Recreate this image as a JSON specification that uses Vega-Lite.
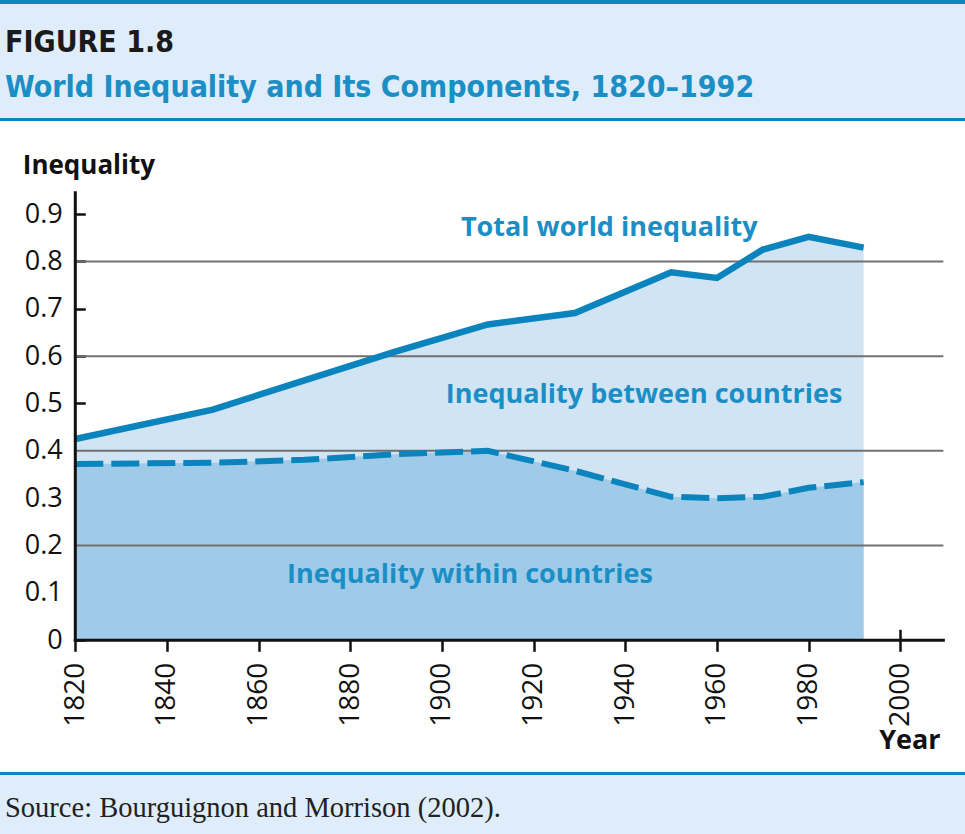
{
  "$schema": "https://vega.github.io/schema/vega-lite/v6.json",
  "padding": 0,
  "spacing": 0,
  "background": "#deedf9",
  "config": {
    "view": {"stroke": null},
    "concat": {"spacing": 0},
    "font": "Open Sans"
  },
  "datasets": {
    "series": [
      {"year": 1820, "total": 0.425, "within": 0.372},
      {"year": 1850, "total": 0.487, "within": 0.375},
      {"year": 1870, "total": 0.549, "within": 0.381},
      {"year": 1890, "total": 0.610, "within": 0.393},
      {"year": 1910, "total": 0.667, "within": 0.400},
      {"year": 1929, "total": 0.691, "within": 0.358},
      {"year": 1950, "total": 0.777, "within": 0.303},
      {"year": 1960, "total": 0.765, "within": 0.300},
      {"year": 1970, "total": 0.825, "within": 0.303},
      {"year": 1980, "total": 0.852, "within": 0.322},
      {"year": 1992, "total": 0.829, "within": 0.334}
    ],
    "grid": [{"value": 0.2}, {"value": 0.4}, {"value": 0.6}, {"value": 0.8}],
    "labels": [
      {"label": "Total world inequality", "year": 1936.5, "value": 0.854},
      {"label": "Inequality between countries", "year": 1944.1, "value": 0.502},
      {"label": "Inequality within countries", "year": 1906.1, "value": 0.121}
    ],
    "one": [{"k": 1}]
  },
  "vconcat": [
    {
      "width": 965, "height": 4,
      "view": {"fill": "#0b86be", "stroke": null},
      "title": {
        "text": "FIGURE 1.8",
        "subtitle": "World Inequality and Its Components, 1820–1992",
        "anchor": "start", "frame": "group", "orient": "bottom",
        "dx": 5,
        "font": "DejaVu Sans Condensed", "fontSize": 30, "fontWeight": "bold", "color": "#1a1a1a",
        "subtitleFont": "DejaVu Sans Condensed", "subtitleFontSize": 30, "subtitleFontWeight": "bold", "subtitleColor": "#1b8ec5",
        "subtitlePadding": 15, "offset": 24.3
      },
      "data": {"name": "one"},
      "mark": {"type": "rect", "opacity": 0},
      "encoding": {}
    },
    {
      "width": 965, "height": 13.7,
      "data": {"name": "one"},
      "mark": {"type": "rect", "opacity": 0},
      "encoding": {}
    },
    {
      "width": 965, "height": 3,
      "view": {"fill": "#0b86be", "stroke": null},
      "data": {"name": "one"},
      "mark": {"type": "rect", "opacity": 0},
      "encoding": {}
    },
    {
      "width": 965, "height": 651,
      "view": {"fill": "white", "stroke": null},
      "resolve": {"axis": {"x": "independent", "y": "independent"}},
      "layer": [
        {
          "data": {"name": "series"},
          "mark": {"type": "area", "color": "#d0e4f4"},
          "encoding": {
            "x": {"field": "year", "type": "quantitative",
              "scale": {"domain": [1803.57, 2014.12], "nice": false, "zero": false},
              "axis": {"orient": "bottom", "offset": -131.7, "values": [1820, 1840, 1860, 1880, 1900, 1920, 1940, 1960, 1980, 2000],
                "format": "d", "labelAngle": -90, "labelAlign": "right", "labelBaseline": "middle", "labelFontSize": 28, "labelFont": "Open Sans",
                "labelColor": "#111", "labelPadding": 11, "labelOverlap": false, "labelFlush": false,
                "tickSize": 11, "tickWidth": 2.5, "tickColor": "#111", "domain": false, "grid": false,
                "title": "Year", "titleX": 940, "titleY": 108, "titleAlign": "right", "titleBaseline": "alphabetic",
                "titleFontSize": 27, "titleFontWeight": "bold", "titleColor": "#111", "titleFont": "Open Sans"}},
            "y": {"field": "total", "type": "quantitative",
              "scale": {"domain": [-0.2781, 1.0965], "nice": false, "zero": false},
              "axis": {"orient": "left", "offset": -75.3, "values": [0, 0.1, 0.2, 0.3, 0.4, 0.5, 0.6, 0.7, 0.8, 0.9],
                "format": ".1~f", "labelFontSize": 27, "labelFont": "Open Sans", "labelColor": "#111", "labelPadding": 23,
                "tickSize": -10, "tickWidth": 2.5, "tickColor": "#111", "domain": false, "grid": false,
                "title": "Inequality", "titleAngle": 0, "titleX": -53, "titleY": 52, "titleAlign": "left", "titleBaseline": "alphabetic",
                "titleFontSize": 26, "titleFontWeight": "bold", "titleColor": "#111", "titleFont": "Open Sans"}}
          }
        },
        {
          "data": {"name": "series"},
          "mark": {"type": "area", "color": "#9fcbe8"},
          "encoding": {
            "x": {"field": "year", "type": "quantitative",
              "axis": {"orient": "bottom", "offset": -131.7, "values": [1820, 1830, 1840, 1850, 1860, 1870, 1880, 1890, 1900, 1910, 1920, 1930, 1940, 1950, 1960, 1970, 1980, 1990, 2000],
                "labels": false, "tickSize": -11, "tickWidth": 2.5, "tickColor": "#111", "domain": false, "grid": false, "title": null}},
            "y": {"field": "within", "type": "quantitative", "axis": null}
          }
        },
        {
          "data": {"name": "grid"},
          "mark": {"type": "rule", "color": "#707070", "strokeWidth": 2},
          "encoding": {
            "x": {"datum": 1820, "type": "quantitative", "axis": null},
            "x2": {"datum": 2009.4},
            "y": {"field": "value", "type": "quantitative", "axis": null}
          }
        },
        {
          "data": {"name": "series"},
          "mark": {"type": "line", "color": "#0b84be", "strokeWidth": 6, "strokeDash": [28, 8]},
          "encoding": {
            "x": {"field": "year", "type": "quantitative", "axis": null},
            "y": {"field": "within", "type": "quantitative", "axis": null}
          }
        },
        {
          "data": {"name": "series"},
          "mark": {"type": "line", "color": "#0b84be", "strokeWidth": 6.5},
          "encoding": {
            "x": {"field": "year", "type": "quantitative", "axis": null},
            "y": {"field": "total", "type": "quantitative", "axis": null}
          }
        },
        {
          "data": {"name": "one"},
          "mark": {"type": "rule", "color": "#111", "strokeWidth": 3, "strokeCap": "square"},
          "encoding": {
            "x": {"datum": 1820, "type": "quantitative", "axis": null},
            "x2": {"datum": 2009.4},
            "y": {"datum": 0, "type": "quantitative", "axis": null}
          }
        },
        {
          "data": {"name": "one"},
          "mark": {"type": "rule", "color": "#111", "strokeWidth": 3, "strokeCap": "square"},
          "encoding": {
            "x": {"datum": 1820, "type": "quantitative", "axis": null},
            "y": {"datum": 0, "type": "quantitative", "axis": null},
            "y2": {"datum": 0.945}
          }
        },
        {
          "data": {"name": "labels"},
          "mark": {"type": "text", "color": "#1b8ec5", "fontSize": 27, "fontWeight": "bold", "font": "Open Sans", "align": "center", "baseline": "alphabetic"},
          "encoding": {
            "x": {"field": "year", "type": "quantitative", "axis": null},
            "y": {"field": "value", "type": "quantitative", "axis": null},
            "text": {"field": "label"}
          }
        }
      ]
    },
    {
      "width": 965, "height": 3,
      "view": {"fill": "#0b86be", "stroke": null},
      "title": {
        "text": "Source: Bourguignon and Morrison (2002).",
        "anchor": "start", "frame": "group", "orient": "bottom",
        "dx": 5, "offset": 18.5,
        "font": "Liberation Serif", "fontSize": 28.5, "fontWeight": "normal", "color": "#222"
      },
      "data": {"name": "one"},
      "mark": {"type": "rect", "opacity": 0},
      "encoding": {}
    },
    {
      "width": 965, "height": 13,
      "data": {"name": "one"},
      "mark": {"type": "rect", "opacity": 0},
      "encoding": {}
    }
  ]
}
